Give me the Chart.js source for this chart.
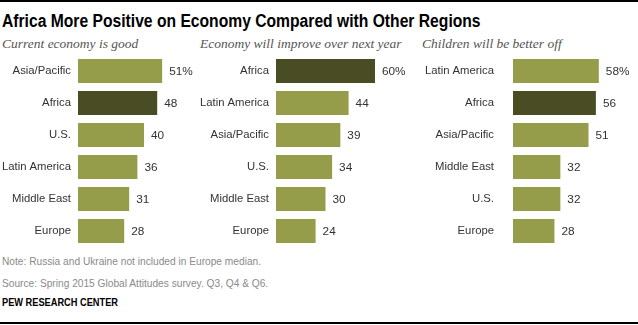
<!DOCTYPE html>
<html>
<head>
<meta charset="utf-8">
<script src="https://cdn.jsdelivr.net/npm/chart.js@4"></script>
<style>
  html, body { margin: 0; padding: 0; background: #fff; }
  #wrap { position: relative; width: 638px; height: 325px; overflow: hidden; font-family: "Liberation Sans", Arial, sans-serif; }
  .rule { position: absolute; left: 0; width: 638px; height: 2px; background: #000; }
  .title { position: absolute; left: 2px; top: 11px; font-size: 18px; font-weight: bold; color: #000; white-space: nowrap; transform: scaleX(0.87); transform-origin: 0 0; }
  .sub { position: absolute; top: 36px; font-family: "Liberation Serif", "DejaVu Serif", serif; font-style: italic; font-size: 13.5px; color: #555; white-space: nowrap; }
  canvas { position: absolute; top: 55px; }
  .foot { position: absolute; left: 2px; font-size: 11px; color: #8a8a8a; white-space: nowrap; transform: scaleX(0.925); transform-origin: 0 0; }
  .brand { position: absolute; left: 2px; top: 296px; font-size: 10.5px; font-weight: bold; color: #000; white-space: nowrap; transform: scaleX(0.88); transform-origin: 0 0; }
</style>
</head>
<body>
<div id="wrap">
  <div class="rule" style="top:0"></div>
  <div class="title">Africa More Positive on Economy Compared with Other Regions</div>
  <div class="sub" style="left:2px">Current economy is good</div>
  <div class="sub" style="left:200px">Economy will improve over next year</div>
  <div class="sub" style="left:422px">Children will be better off</div>
  <canvas id="c1" width="200" height="192" style="left:0"></canvas>
  <canvas id="c2" width="210" height="192" style="left:200px"></canvas>
  <canvas id="c3" width="218" height="192" style="left:420px"></canvas>
  <div class="foot" style="top:255px">Note: Russia and Ukraine not included in Europe median.</div>
  <div class="foot" style="top:277px">Source: Spring 2015 Global Attitudes survey. Q3, Q4 &amp; Q6.</div>
  <div class="brand">PEW RESEARCH CENTER</div>
  <div class="rule" style="top:322px"></div>
</div>
<script>
// Share saying each thing, by region
const currentLabels = ["Asia/Pacific", "Africa", "U.S.", "Latin America", "Middle East", "Europe"];
const currentValues = [51, 48, 40, 36, 31, 28];

const improveLabels = ["Africa", "Latin America", "Asia/Pacific", "U.S.", "Middle East", "Europe"];
const improveValues = [60, 44, 39, 34, 30, 24];

const childrenLabels = ["Latin America", "Africa", "Asia/Pacific", "Middle East", "U.S.", "Europe"];
const childrenValues = [58, 56, 51, 32, 32, 28];

const LIGHT = "#959d4a";
const DARK = "#4a4c24";
const TEXT = "#333";
const FONT = "'Liberation Sans', Arial, sans-serif";

// value labels at the end of each bar, "%" on the first one only
const valueLabels = {
  id: "valueLabels",
  afterDatasetsDraw(chart) {
    const ctx = chart.ctx;
    const meta = chart.getDatasetMeta(0);
    const data = chart.data.datasets[0].data;
    ctx.save();
    ctx.font = "11.8px " + FONT;
    ctx.fillStyle = TEXT;
    ctx.textBaseline = "middle";
    ctx.textAlign = "left";
    meta.data.forEach((bar, i) => {
      ctx.fillText(data[i] + (i === 0 ? "%" : ""), bar.x + 7, bar.y + 1);
    });
    ctx.restore();
  }
};

function panel(id, labels, values, axisW, gap, max) {
  new Chart(document.getElementById(id), {
    type: "bar",
    data: {
      labels,
      datasets: [{
        data: values,
        backgroundColor: labels.map((l) => (l === "Africa" ? DARK : LIGHT)),
        barPercentage: 0.75,
        categoryPercentage: 1,
      }],
    },
    options: {
      indexAxis: "y", responsive: false, animation: false,
      layout: { padding: 0 },
      plugins: { legend: { display: false }, tooltip: { enabled: false } },
      scales: {
        x: { display: false, min: 0, max },
        y: {
          grid: { display: false, drawTicks: false }, border: { display: false },
          ticks: { color: TEXT, padding: gap, font: { family: FONT, size: 11.3 } },
          // fixed label column, and no extra room above/below the rows
          afterFit(s) { s.width = axisW; s.paddingTop = 0; s.paddingBottom = 0; },
        },
      },
    },
    plugins: [valueLabels],
  });
}

panel("c1", currentLabels, currentValues, 78, 7, 122 / 1.65);
panel("c2", improveLabels, improveValues, 76, 7, 134 / 1.65);
panel("c3", childrenLabels, childrenValues, 93, 19, 125 / 1.48);
</script>
</body>
</html>
